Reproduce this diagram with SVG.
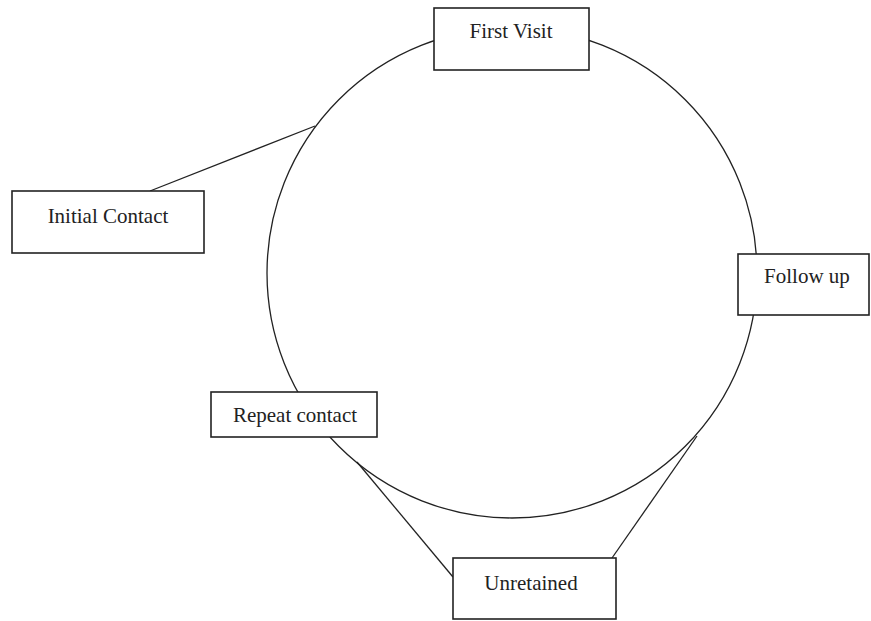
<svg xmlns="http://www.w3.org/2000/svg" width="871" height="621" viewBox="0 0 871 621">
<style>
.box{fill:#fff;stroke:#222;stroke-width:1.6}
.lbl{font-family:"Liberation Serif","Times New Roman",serif;font-size:21px;fill:#222;text-anchor:middle}
.conn{fill:none;stroke:#222;stroke-width:1.3}
</style>
<rect width="871" height="621" fill="#fff"/>
<g id="connectors">
<circle class="conn" cx="512" cy="273" r="245"/>
<line class="conn" x1="315" y1="126" x2="150" y2="191"/>
<line class="conn" x1="357" y1="462" x2="453" y2="577"/>
<line class="conn" x1="697" y1="436" x2="612" y2="558"/>
</g>
<g id="first-visit">
<rect class="box" x="434" y="8" width="155" height="62"/>
<text class="lbl" x="511" y="38">First Visit</text>
</g>
<g id="initial-contact">
<rect class="box" x="12" y="191" width="192" height="62"/>
<text class="lbl" x="108" y="223">Initial Contact</text>
</g>
<g id="follow-up">
<rect class="box" x="738" y="254" width="131" height="61"/>
<text class="lbl" x="807" y="283">Follow up</text>
</g>
<g id="repeat-contact">
<rect class="box" x="211" y="392" width="166" height="45"/>
<text class="lbl" x="295" y="422">Repeat contact</text>
</g>
<g id="unretained">
<rect class="box" x="453" y="558" width="163" height="61"/>
<text class="lbl" x="531" y="590">Unretained</text>
</g>
</svg>
